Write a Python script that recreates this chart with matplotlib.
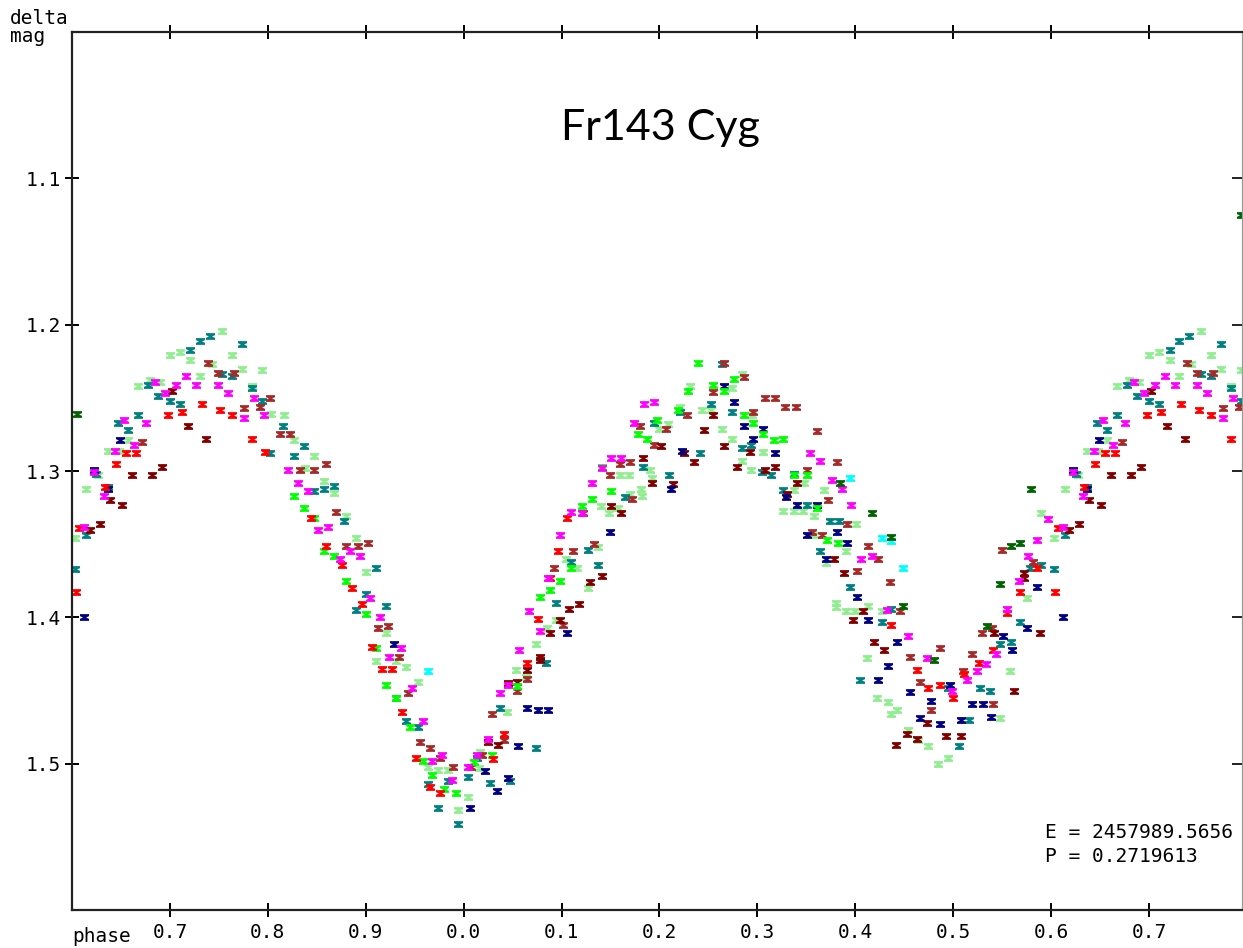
import numpy as np
import matplotlib
matplotlib.use("Agg")
import matplotlib.pyplot as plt
from matplotlib.path import Path

# phase (0..1) and delta mag, one pair of lists per night / colour
red_ph = [0.733, 0.712, 0.751, 0.698, 0.763, 0.784, 0.655, 0.665, 0.797, 0.645, 0.634, 0.607, 0.604,
          0.844, 0.859, 0.876, 0.886, 0.896, 0.906, 0.917, 0.927, 0.937, 0.951, 0.966, 0.976,
          0.041, 0.030, 0.065, 0.106, 0.096, 0.076, 0.088,
          0.437, 0.463, 0.511, 0.526, 0.474, 0.487, 0.500, 0.541, 0.555, 0.568, 0.586]
red_mag = [1.254, 1.260, 1.258, 1.262, 1.262, 1.278, 1.288, 1.288, 1.287, 1.295, 1.311, 1.339, 1.383,
           1.332, 1.351, 1.364, 1.380, 1.391, 1.420, 1.435, 1.435, 1.465, 1.496, 1.516, 1.520,
           1.480, 1.497, 1.431, 1.332, 1.355, 1.401, 1.373,
           1.405, 1.436, 1.439, 1.431, 1.448, 1.446, 1.455, 1.422, 1.397, 1.383, 1.366]

mag_ph = [0.716, 0.685, 0.706, 0.727, 0.749, 0.695, 0.759, 0.786, 0.776, 0.796, 0.653, 0.676, 0.663,
          0.644, 0.622, 0.633, 0.612,
          0.821, 0.831, 0.841, 0.861, 0.851, 0.884, 0.874, 0.894, 0.904, 0.915, 0.936, 0.924, 0.947,
          0.958, 0.978, 0.968, 0.988,
          0.184, 0.174, 0.151, 0.161, 0.141, 0.131, 0.121, 0.110, 0.098, 0.086, 0.067, 0.078, 0.057,
          0.045, 0.037, 0.025, 0.014, 0.004,
          0.194, 0.354, 0.364, 0.376,
          0.386, 0.396, 0.406, 0.417, 0.432, 0.454, 0.473, 0.514, 0.524, 0.534, 0.499, 0.544, 0.567,
          0.576, 0.586, 0.597, 0.555]
mag_mag = [1.235, 1.239, 1.241, 1.241, 1.241, 1.247, 1.247, 1.250, 1.264, 1.262, 1.265, 1.267, 1.282,
           1.286, 1.301, 1.317, 1.338,
           1.299, 1.308, 1.314, 1.338, 1.340, 1.355, 1.360, 1.358, 1.387, 1.400, 1.421, 1.427, 1.448,
           1.471, 1.494, 1.498, 1.511,
           1.254, 1.267, 1.291, 1.291, 1.298, 1.308, 1.329, 1.328, 1.344, 1.373, 1.396, 1.409, 1.422,
           1.446, 1.452, 1.483, 1.494, 1.502,
           1.253, 1.288, 1.293, 1.306,
           1.312, 1.323, 1.360, 1.358, 1.395, 1.413, 1.428, 1.443, 1.437, 1.432, 1.450, 1.425, 1.375,
           1.358, 1.347, 1.333, 1.394]

lime_ph = [0.827, 0.837, 0.847, 0.857, 0.868, 0.880, 0.900, 0.911, 0.921, 0.931, 0.945, 0.958, 0.968,
           0.980, 0.992,
           0.178, 0.187, 0.141, 0.151, 0.131, 0.121, 0.110, 0.098, 0.088, 0.078, 0.055, 0.029, 0.011,
           0.239, 0.276, 0.229, 0.255, 0.266, 0.219, 0.286, 0.198, 0.296, 0.306, 0.317, 0.326, 0.337,
           0.351, 0.361, 0.371, 0.382]
lime_mag = [1.317, 1.325, 1.332, 1.355, 1.358, 1.375, 1.398, 1.421, 1.446, 1.455, 1.475, 1.498, 1.508,
            1.517, 1.520,
            1.275, 1.278, 1.297, 1.314, 1.319, 1.324, 1.366, 1.375, 1.381, 1.386, 1.447, 1.494, 1.499,
            1.226, 1.237, 1.245, 1.241, 1.245, 1.258, 1.262, 1.265, 1.267, 1.275, 1.279, 1.278, 1.303,
            1.303, 1.325, 1.347, 1.349]

lgreen_ph = [0.753, 0.710, 0.700, 0.763, 0.721, 0.743, 0.794, 0.774, 0.731, 0.680, 0.690, 0.667, 0.784,
             0.803, 0.657, 0.637, 0.648, 0.627, 0.614, 0.603,
             0.817, 0.827, 0.847, 0.838, 0.857, 0.868, 0.880, 0.890, 0.900, 0.921, 0.911, 0.931, 0.941,
             0.953, 0.964, 0.974, 0.984, 0.994,
             0.160, 0.169, 0.181, 0.182, 0.170, 0.140, 0.158, 0.148, 0.137, 0.105, 0.116, 0.127, 0.094,
             0.085, 0.074, 0.053, 0.064, 0.044, 0.017, 0.016, 0.004,
             0.284, 0.231, 0.274, 0.221, 0.243, 0.253, 0.295, 0.209, 0.200, 0.264, 0.274, 0.294, 0.190,
             0.284, 0.306, 0.348, 0.337, 0.326, 0.337, 0.347, 0.358, 0.358, 0.370, 0.380, 0.380, 0.192,
             0.368,
             0.401, 0.391, 0.413, 0.391, 0.400, 0.427, 0.412, 0.422, 0.433, 0.443, 0.437, 0.548, 0.454,
             0.464, 0.474, 0.495, 0.484, 0.558, 0.575, 0.590]
lgreen_mag = [1.204, 1.219, 1.221, 1.221, 1.224, 1.227, 1.231, 1.230, 1.235, 1.238, 1.239, 1.242, 1.242,
              1.261, 1.279, 1.286, 1.286, 1.303, 1.312, 1.346,
              1.262, 1.279, 1.290, 1.298, 1.307, 1.315, 1.331, 1.346, 1.369, 1.411, 1.430, 1.430, 1.434,
              1.444, 1.502, 1.504, 1.504, 1.532,
              1.303, 1.303, 1.312, 1.317, 1.316, 1.324, 1.325, 1.329, 1.352, 1.360, 1.366, 1.380, 1.402,
              1.407, 1.418, 1.436, 1.441, 1.465, 1.492, 1.503, 1.523,
              1.234, 1.242, 1.243, 1.256, 1.258, 1.258, 1.262, 1.268, 1.271, 1.271, 1.278, 1.299, 1.299,
              1.293, 1.287, 1.308, 1.313, 1.327, 1.327, 1.327, 1.331, 1.344, 1.363, 1.390, 1.393, 1.305,
              1.313,
              1.336, 1.355, 1.392, 1.396, 1.396, 1.396, 1.428, 1.455, 1.458, 1.463, 1.466, 1.469, 1.477,
              1.484, 1.488, 1.496, 1.500, 1.437, 1.387, 1.329]

teal_ph = [0.741, 0.731, 0.774, 0.721, 0.753, 0.763, 0.678, 0.784, 0.688, 0.794, 0.700, 0.710, 0.667,
           0.647, 0.657, 0.802, 0.625, 0.637, 0.614, 0.603,
           0.815, 0.837, 0.827, 0.857, 0.868, 0.847, 0.878, 0.911, 0.900, 0.890, 0.921, 0.931, 0.941,
           0.953, 0.984, 0.964, 0.974, 0.994,
           0.183, 0.165, 0.127, 0.110, 0.137, 0.094, 0.084, 0.037, 0.074, 0.014, 0.004, 0.027, 0.047,
           0.264, 0.253, 0.221, 0.274, 0.194, 0.294, 0.284, 0.241, 0.305, 0.210, 0.314, 0.337, 0.326,
           0.351, 0.374, 0.383, 0.364,
           0.395, 0.437, 0.427, 0.405, 0.495, 0.527, 0.538, 0.516, 0.506, 0.548, 0.559, 0.568, 0.578,
           0.590]
teal_mag = [1.208, 1.211, 1.213, 1.217, 1.234, 1.235, 1.241, 1.243, 1.249, 1.252, 1.252, 1.254, 1.262,
            1.267, 1.272, 1.288, 1.302, 1.311, 1.344, 1.367,
            1.269, 1.283, 1.290, 1.312, 1.310, 1.314, 1.334, 1.366, 1.384, 1.395, 1.392, 1.455, 1.471,
            1.475, 1.512, 1.514, 1.530, 1.541,
            1.297, 1.318, 1.354, 1.362, 1.364, 1.390, 1.431, 1.462, 1.489, 1.496, 1.509, 1.513, 1.512,
            1.227, 1.254, 1.260, 1.260, 1.267, 1.282, 1.284, 1.288, 1.301, 1.303, 1.303, 1.302, 1.313,
            1.323, 1.334, 1.334, 1.355,
            1.379, 1.394, 1.403, 1.443, 1.448, 1.448, 1.450, 1.470, 1.488, 1.418, 1.417, 1.403, 1.366,
            1.364]

brown_ph = [0.739, 0.749, 0.765, 0.802, 0.792, 0.776, 0.672,
            0.812, 0.823, 0.859, 0.833, 0.847, 0.870, 0.880, 0.892, 0.902, 0.913, 0.923, 0.934, 0.943,
            0.955, 0.966, 0.976, 0.989,
            0.180, 0.170, 0.160, 0.150, 0.172, 0.122, 0.133, 0.112, 0.092, 0.102, 0.065, 0.055, 0.029,
            0.041, 0.019, 0.008,
            0.266, 0.286, 0.255, 0.308, 0.318, 0.328, 0.339, 0.228, 0.296, 0.207, 0.194, 0.361, 0.351,
            0.381, 0.372, 0.356, 0.366,
            0.392, 0.413, 0.423, 0.402, 0.435, 0.446, 0.487, 0.456, 0.510, 0.519, 0.466, 0.477, 0.541,
            0.529, 0.540, 0.582, 0.550]
brown_mag = [1.226, 1.233, 1.233, 1.250, 1.256, 1.257, 1.280,
             1.275, 1.275, 1.295, 1.299, 1.299, 1.328, 1.351, 1.351, 1.349, 1.407, 1.406, 1.427, 1.452,
             1.485, 1.489, 1.496, 1.502,
             1.269, 1.294, 1.295, 1.303, 1.319, 1.329, 1.350, 1.355, 1.366, 1.405, 1.442, 1.450, 1.466,
             1.484, 1.494, 1.502,
             1.226, 1.236, 1.246, 1.250, 1.250, 1.256, 1.256, 1.262, 1.260, 1.271, 1.282, 1.273, 1.299,
             1.294, 1.320, 1.342, 1.344,
             1.336, 1.351, 1.360, 1.368, 1.376, 1.396, 1.421, 1.427, 1.437, 1.425, 1.444, 1.463, 1.459,
             1.411, 1.407, 1.362, 1.354]

maroon_ph = [0.702, 0.718, 0.737, 0.692, 0.661, 0.682, 0.639, 0.651, 0.629, 0.618,
             0.183, 0.151, 0.161, 0.141, 0.129, 0.108, 0.118, 0.098, 0.088, 0.078, 0.078, 0.065, 0.045,
             0.055, 0.025, 0.035,
             0.255, 0.245, 0.202, 0.266, 0.225, 0.292, 0.235, 0.279, 0.318, 0.308, 0.192, 0.214, 0.341,
             0.330, 0.378,
             0.388, 0.408, 0.398, 0.419, 0.429, 0.473, 0.453, 0.463, 0.442, 0.493, 0.508, 0.562, 0.542,
             0.589, 0.572, 0.572]
maroon_mag = [1.245, 1.269, 1.278, 1.297, 1.303, 1.303, 1.320, 1.323, 1.336, 1.340,
              1.291, 1.324, 1.329, 1.372, 1.376, 1.394, 1.391, 1.402, 1.411, 1.427, 1.429, 1.436, 1.445,
              1.444, 1.485, 1.487,
              1.262, 1.272, 1.283, 1.283, 1.288, 1.287, 1.294, 1.297, 1.297, 1.299, 1.308, 1.309, 1.308,
              1.316, 1.360,
              1.370, 1.396, 1.402, 1.417, 1.422, 1.472, 1.480, 1.483, 1.487, 1.481, 1.481, 1.450, 1.411,
              1.411, 1.370, 1.373]

navy_ph = [0.649, 0.622, 0.637, 0.612, 0.929,
           0.149, 0.106, 0.065, 0.076, 0.086, 0.056, 0.022, 0.045, 0.034, 0.006,
           0.266, 0.276, 0.286, 0.306, 0.296, 0.223, 0.318, 0.212, 0.329, 0.340, 0.361, 0.351, 0.381,
           0.370,
           0.392, 0.402, 0.413, 0.443, 0.433, 0.423, 0.497, 0.456, 0.477, 0.519, 0.530, 0.539, 0.466,
           0.487, 0.508, 0.551, 0.560, 0.575, 0.586]
navy_mag = [1.279, 1.299, 1.312, 1.400, 1.418,
            1.342, 1.411, 1.462, 1.463, 1.463, 1.488, 1.505, 1.510, 1.519, 1.530,
            1.242, 1.253, 1.269, 1.271, 1.278, 1.286, 1.288, 1.312, 1.318, 1.323, 1.323, 1.344, 1.342,
            1.360,
            1.349, 1.386, 1.402, 1.417, 1.433, 1.443, 1.446, 1.451, 1.457, 1.459, 1.459, 1.468, 1.469,
            1.473, 1.470, 1.413, 1.422, 1.407, 1.379]

cyan_ph = [0.964, 0.395, 0.427, 0.437, 0.449]
cyan_mag = [1.437, 1.305, 1.346, 1.348, 1.366]

dgreen_ph = [0.384, 0.417, 0.437, 0.449, 0.480, 0.535, 0.548, 0.559, 0.568, 0.580]
dgreen_mag = [1.308, 1.329, 1.345, 1.392, 1.429, 1.406, 1.377, 1.351, 1.349, 1.312]

# two stray dark green points sitting right on the plot edges
edge_ph = [0.605, 1.794]
edge_mag = [1.261, 1.125]

series = [
    (lgreen_ph, lgreen_mag, '#90ee90'),
    (teal_ph, teal_mag, '#008080'),
    (brown_ph, brown_mag, '#a52a2a'),
    (maroon_ph, maroon_mag, '#800000'),
    (navy_ph, navy_mag, '#000080'),
    (lime_ph, lime_mag, '#00ff00'),
    (red_ph, red_mag, '#ff0000'),
    (mag_ph, mag_mag, '#ff00ff'),
    (cyan_ph, cyan_mag, '#00ffff'),
    (dgreen_ph, dgreen_mag, '#006400'),
]

X0, X1 = 0.6, 1.795


def fold(ph, mag):
    ph = np.asarray(ph, float)
    mag = np.asarray(mag, float)
    x = np.where(ph < X0, ph + 1, ph)
    rep = x + 1 < X1
    return np.concatenate([x, x[rep] + 1]), np.concatenate([mag, mag[rep]])


# small "I"-like hourglass marker
hg = Path([(-1, 0.75), (1, 0.75), (1, 0.3), (0.35, 0), (1, -0.3), (1, -0.75), (-1, -0.75),
           (-1, -0.3), (-0.35, 0), (-1, 0.3), (-1, 0.75)],
          [Path.MOVETO] + [Path.LINETO] * 9 + [Path.CLOSEPOLY])

MONO = 'DejaVu Sans Mono'
FS = 14

fig = plt.figure(figsize=(12.43, 9.48), dpi=100)
ax = fig.add_axes([72 / 1243, 38 / 948, 1170 / 1243, 878 / 948])

for ph, mg, col in series:
    x, y = fold(ph, mg)
    ax.plot(x, y, linestyle='none', marker=hg, ms=6.5, mec='none', mfc=col)
ax.plot(edge_ph, edge_mag, linestyle='none', marker=hg, ms=6.5, mec='none', mfc='#006400')

ax.set_xlim(X0, X1)
ax.set_ylim(1.6, 1.0)

xt = np.arange(0.7, 1.75, 0.1)
ax.set_xticks(xt)
ax.set_xticklabels([f"{(t + 1e-9) % 1:.1f}" for t in xt], family=MONO, fontsize=FS)
yt = [1.1, 1.2, 1.3, 1.4, 1.5]
ax.set_yticks(yt)
ax.set_yticklabels([f"{v:.1f}" for v in yt], family=MONO, fontsize=FS)

ax.tick_params(axis='x', direction='inout', length=10, width=1.4, top=True, pad=4)
ax.tick_params(axis='y', direction='inout', length=10, width=1.4, right=False, pad=3)

for s in ['left', 'bottom', 'top']:
    ax.spines[s].set_linewidth(1.6)
    ax.spines[s].set_color('#222222')
ax.spines['right'].set_color('#999999')
ax.spines['right'].set_linewidth(0.8)

sec = ax.secondary_yaxis('right')
sec.set_yticks(yt)
sec.tick_params(direction='in', length=7, width=1.4, labelright=False, color='#222222')
sec.spines['right'].set_color('#999999')
sec.spines['right'].set_linewidth(0.8)

ax.text(0.5026, 0.8907, 'Fr143 Cyg', transform=ax.transAxes, ha='center', va='center',
        fontsize=31, family='Lato')

fig.text(10 / 1243, 1 - 19 / 948, 'delta', family=MONO, fontsize=FS, va='center', ha='left')
fig.text(10 / 1243, 1 - 37 / 948, 'mag', family=MONO, fontsize=FS, va='center', ha='left')
fig.text(72 / 1243, 1 - 937 / 948, 'phase', family=MONO, fontsize=FS, va='center', ha='left')
fig.text(1045 / 1243, 1 - 832 / 948, 'E = 2457989.5656', family=MONO, fontsize=FS,
         va='center', ha='left')
fig.text(1045 / 1243, 1 - 856 / 948, 'P = 0.2719613', family=MONO, fontsize=FS,
         va='center', ha='left')

fig.savefig('out.png', dpi=100, facecolor='white')
